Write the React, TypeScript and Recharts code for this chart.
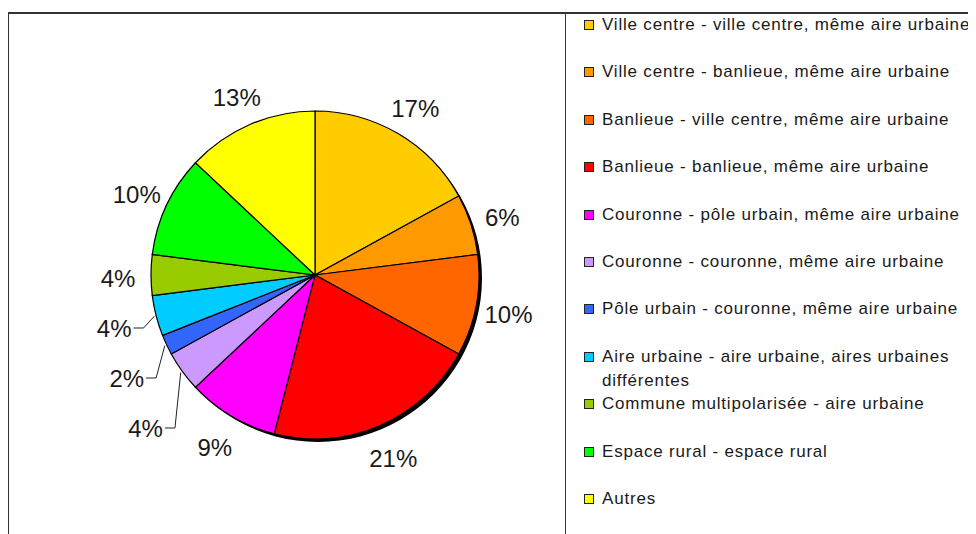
import React from 'react'
import { PieChart, Pie, Cell } from 'recharts'

const categories = [
  'Ville centre - ville centre, même aire urbaine',
  'Ville centre - banlieue, même aire urbaine',
  'Banlieue - ville centre, même aire urbaine',
  'Banlieue - banlieue, même aire urbaine',
  'Couronne - pôle urbain, même aire urbaine',
  'Couronne - couronne, même aire urbaine',
  'Pôle urbain - couronne, même aire urbaine',
  'Aire urbaine - aire urbaine, aires urbaines\ndifférentes',
  'Commune multipolarisée - aire urbaine',
  'Espace rural - espace rural',
  'Autres',
]
const shares = [17, 6, 10, 21, 9, 4, 2, 4, 4, 10, 13]
const colors = [
  '#FFCC00', '#FF9900', '#FF6600', '#FF0000', '#FF00FF', '#CC99FF',
  '#3366FF', '#00CCFF', '#99CC00', '#00FF00', '#FFFF00',
]

const data = categories.map((name, i) => ({ name, value: shares[i] }))
const shadow = [{ name: 'shadow', value: 1 }]

const FONT = '"Liberation Sans", Arial, sans-serif'
const LABEL_SIZE = 24
const CX = 307
const CY = 267
const R = 164
const RAD = Math.PI / 180

type Placed = { x: number; y: number; w: number; mid: number; leader: boolean }

// rough Excel-like label placement: outside the pie, pushed down when crowded
function layoutLabels(cx: number, cy: number, r: number): Placed[] {
  const total = shares.reduce((a, b) => a + b, 0)
  let acc = 0
  const out: Placed[] = shares.map((v) => {
    const mid = 90 - ((acc + v / 2) / total) * 360
    acc += v
    const d = r + 33
    const text = `${v}%`
    const w = ((text.length - 1) * 0.556 + 0.889) * LABEL_SIZE
    return {
      x: cx + d * Math.cos(-mid * RAD),
      y: cy + d * Math.sin(-mid * RAD),
      w,
      mid,
      leader: false,
    }
  })
  const left = out.filter((p) => p.x < cx).sort((a, b) => a.y - b.y)
  for (let i = 1; i < left.length; i++) {
    const prev = left[i - 1]
    const cur = left[i]
    if (Math.abs(cur.x - prev.x) < 50 && cur.y < prev.y + 50) {
      cur.y = prev.y + 50
      cur.leader = true
    }
  }
  out.forEach((p) => {
    if (p.leader) p.x -= 10
    p.y += 3
  })
  return out
}

const renderLabel = (props: any) => {
  const { cx, cy, outerRadius, index } = props
  const placed = layoutLabels(cx, cy, outerRadius)[index]
  const text = `${shares[index]}%`
  let leader = null
  if (placed.leader) {
    const x0 = placed.x + placed.w / 2 + 2
    const x1 = x0 + 10
    const ex = cx + (outerRadius + 2) * Math.cos(-placed.mid * RAD)
    const ey = cy + (outerRadius + 2) * Math.sin(-placed.mid * RAD)
    leader = (
      <polyline
        points={`${x0},${placed.y} ${x1},${placed.y} ${ex},${ey}`}
        fill="none"
        stroke="#222"
        strokeWidth={1}
      />
    )
  }
  return (
    <g key={`lbl-${index}`}>
      {leader}
      <text
        x={placed.x}
        y={placed.y}
        textAnchor="middle"
        dominantBaseline="central"
        fontFamily={FONT}
        fontSize={LABEL_SIZE}
        fill="#1a1a1a"
      >
        {text}
      </text>
    </g>
  )
}

export default function App() {
  return (
    <div
      style={{
        position: 'relative',
        width: 968,
        height: 526,
        overflow: 'hidden',
        background: '#fff',
        fontFamily: FONT,
      }}
    >
      <div style={{ position: 'absolute', left: 0, top: 4, width: 968, height: 2, background: '#333' }} />
      <div style={{ position: 'absolute', left: 0, top: 4, width: 1, height: 522, background: '#333' }} />
      <div style={{ position: 'absolute', left: 557, top: 4, width: 1, height: 522, background: '#333' }} />

      <div style={{ position: 'absolute', left: 0, top: 0 }}>
        <PieChart width={557} height={526} margin={{ top: 0, right: 0, bottom: 0, left: 0 }}>
          <Pie
            data={shadow}
            dataKey="value"
            cx={CX + 3}
            cy={CY + 3}
            outerRadius={R}
            startAngle={90}
            endAngle={-270}
            fill="#000"
            stroke="none"
            isAnimationActive={false}
            legendType="none"
          />
          <Pie
            data={data}
            dataKey="value"
            nameKey="name"
            cx={CX}
            cy={CY}
            outerRadius={R}
            startAngle={90}
            endAngle={-270}
            stroke="#000"
            strokeWidth={1.2}
            label={renderLabel}
            labelLine={false}
            isAnimationActive={false}
          >
            {data.map((d, i) => (
              <Cell key={d.name} fill={colors[i]} />
            ))}
          </Pie>
        </PieChart>
      </div>

      {/* legend on the right panel */}
      {categories.map((name, i) => {
        const rowY = 17 + i * 47.4
        return (
          <div key={name} style={{ position: 'absolute', left: 576, top: rowY - 12, whiteSpace: 'pre' }}>
            <span
              style={{
                position: 'absolute',
                left: 0,
                top: 7,
                width: 8,
                height: 8,
                background: colors[i],
                border: '1px solid #222',
              }}
            />
            <span
              style={{
                position: 'absolute',
                left: 18,
                top: 0,
                fontSize: 17,
                lineHeight: '24px',
                color: '#1a1a1a',
                letterSpacing: 0.8,
              }}
            >
              {name}
            </span>
          </div>
        )
      })}
    </div>
  )
}
